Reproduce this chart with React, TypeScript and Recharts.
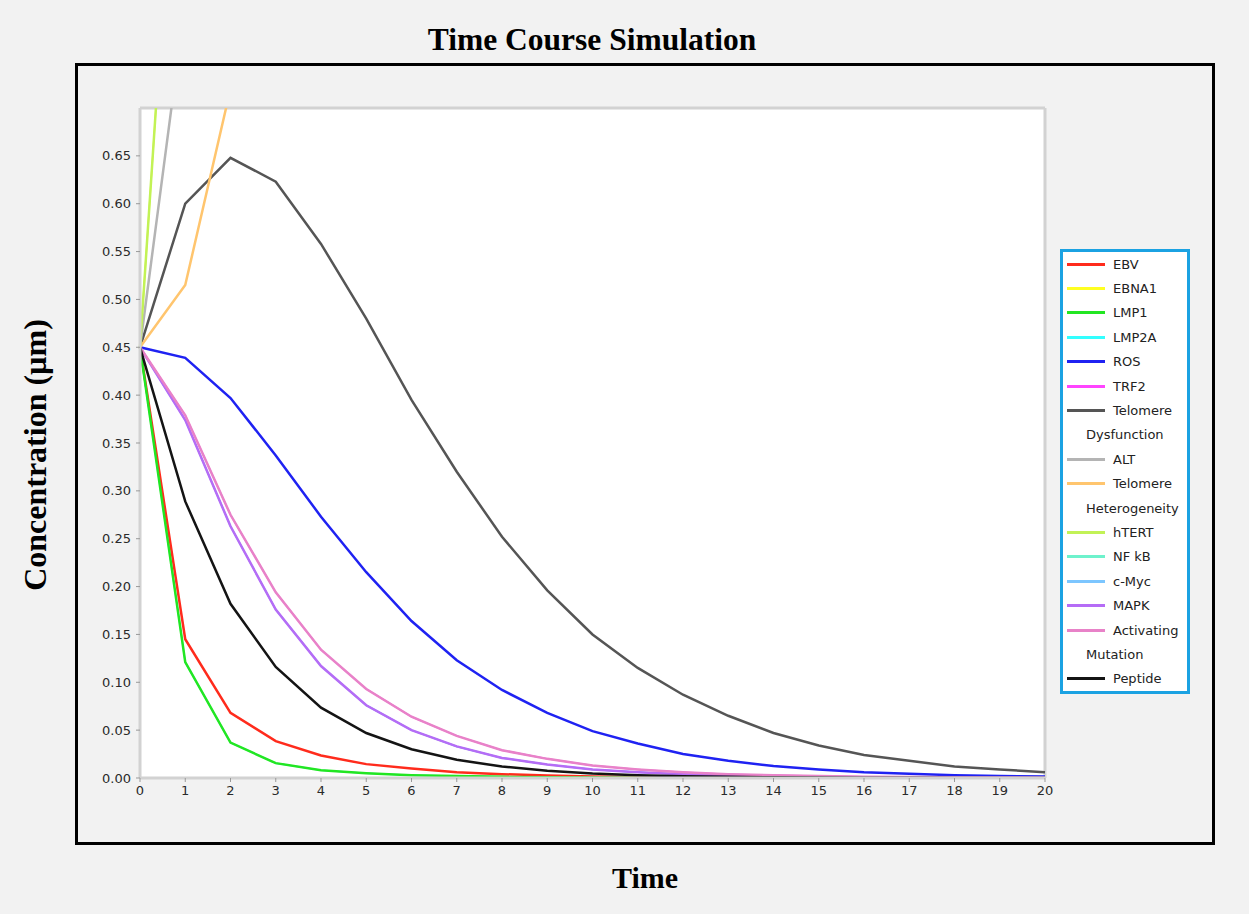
import { CartesianGrid, Line, LineChart, XAxis, YAxis } from "recharts";

// time points (x axis)
const times = [0, 1, 2, 3, 4, 5, 6, 7, 8, 9, 10, 11, 12, 13, 14, 15, 16, 17, 18, 19, 20];
const yTicks = [0, 0.05, 0.1, 0.15, 0.2, 0.25, 0.3, 0.35, 0.4, 0.45, 0.5, 0.55, 0.6, 0.65];

// series values
const ebv = [0.45, 0.145, 0.068, 0.0385, 0.0235, 0.0145, 0.01, 0.006, 0.004, 0.0025, 0.0016, 0.001, 0.0007, 0.0005, 0.0003, 0.0002, 0.00015, 0.0001, 0.0001, 0.0001, 0.0001];
const lmp1 = [0.45, 0.121, 0.037, 0.0155, 0.008, 0.005, 0.003, 0.002, 0.0012, 0.0008, 0.0005, 0.0003, 0.0002, 0.0001, 0.0001, 0.0001, 0, 0, 0, 0, 0];
const ros = [0.45, 0.439, 0.397, 0.337, 0.273, 0.215, 0.164, 0.123, 0.092, 0.068, 0.049, 0.036, 0.025, 0.018, 0.0125, 0.009, 0.006, 0.0045, 0.003, 0.002, 0.0015];
const telDysfunction = [0.45, 0.6, 0.648, 0.623, 0.558, 0.48, 0.395, 0.32, 0.252, 0.196, 0.15, 0.115, 0.087, 0.065, 0.047, 0.034, 0.024, 0.018, 0.012, 0.009, 0.006];
// these three leave the plot at the top; later points are off-scale guesses
const alt = [0.45, 0.81, 1.1, 1.32, 1.48, 1.6, 1.68, 1.74, 1.78, 1.81, 1.83, 1.85, 1.86, 1.87, 1.87, 1.88, 1.88, 1.88, 1.88, 1.88, 1.88];
const telHeterogeneity = [0.45, 0.515, 0.72, 0.9, 1.04, 1.15, 1.23, 1.29, 1.33, 1.36, 1.38, 1.4, 1.41, 1.42, 1.42, 1.43, 1.43, 1.43, 1.43, 1.43, 1.43];
const htert = [0.45, 1.16, 1.62, 1.95, 2.2, 2.38, 2.5, 2.6, 2.67, 2.72, 2.76, 2.79, 2.81, 2.83, 2.84, 2.85, 2.86, 2.86, 2.87, 2.87, 2.87];
const mapk = [0.45, 0.374, 0.263, 0.176, 0.117, 0.076, 0.05, 0.033, 0.021, 0.014, 0.009, 0.006, 0.004, 0.0026, 0.0017, 0.0011, 0.0007, 0.0005, 0.0003, 0.0002, 0.0001];
const activating = [0.45, 0.379, 0.275, 0.194, 0.134, 0.093, 0.064, 0.044, 0.029, 0.02, 0.013, 0.009, 0.006, 0.004, 0.0028, 0.002, 0.0013, 0.001, 0.0007, 0.0005, 0.0003];
const peptide = [0.45, 0.289, 0.182, 0.116, 0.0735, 0.047, 0.03, 0.019, 0.012, 0.0075, 0.0047, 0.003, 0.0019, 0.0012, 0.0008, 0.0005, 0.0003, 0.0002, 0.0001, 0.0001, 0.0001];
// not visible in the reference: they lie under other curves
const ebna1 = htert;
const lmp2a = lmp1;
const trf2 = activating;
const nfkb = mapk;
const cmyc = mapk;

const series = [
  { key: "ebv", name: "EBV", color: "#ff2b1c", values: ebv },
  { key: "ebna1", name: "EBNA1", color: "#ffff22", values: ebna1, hidden: true },
  { key: "lmp1", name: "LMP1", color: "#22e622", values: lmp1 },
  { key: "lmp2a", name: "LMP2A", color: "#33ffff", values: lmp2a, hidden: true },
  { key: "ros", name: "ROS", color: "#1f22f2", values: ros },
  { key: "trf2", name: "TRF2", color: "#ff44ff", values: trf2, hidden: true },
  { key: "teldys", name: "Telomere|Dysfunction", color: "#555555", values: telDysfunction },
  { key: "alt", name: "ALT", color: "#b4b4b4", values: alt },
  { key: "telhet", name: "Telomere|Heterogeneity", color: "#ffc56e", values: telHeterogeneity },
  { key: "htert", name: "hTERT", color: "#c2f256", values: htert },
  { key: "nfkb", name: "NF kB", color: "#6ef2cc", values: nfkb, hidden: true },
  { key: "cmyc", name: "c-Myc", color: "#7cc6ff", values: cmyc, hidden: true },
  { key: "mapk", name: "MAPK", color: "#b56cf6", values: mapk },
  { key: "activating", name: "Activating|Mutation", color: "#e882c8", values: activating },
  { key: "peptide", name: "Peptide", color: "#141414", values: peptide },
];

const data = times.map((t, i) => {
  const row: Record<string, number> = { t };
  series.forEach((s) => (row[s.key] = s.values[i]));
  return row;
});

const tickStyle = { fill: "#2a2a2a", fontSize: 13, fontFamily: "DejaVu Sans" };
const serif = "'Liberation Serif', 'Times New Roman', serif";

function LegendBox() {
  const rows: { text: string; color?: string }[] = [];
  series.forEach((s) => {
    const parts = s.name.split("|");
    rows.push({ text: parts[0], color: s.color });
    if (parts[1]) rows.push({ text: parts[1] });
  });
  return (
    <div
      style={{
        position: "absolute",
        left: 1060,
        top: 249,
        width: 124,
        border: "3px solid #1ba2e2",
        background: "#fff",
        fontFamily: "DejaVu Sans",
        fontSize: 13,
        color: "#222",
      }}
    >
      {rows.map((r, i) => (
        <div key={i} style={{ height: 24.4, display: "flex", alignItems: "center", whiteSpace: "nowrap" }}>
          {r.color ? (
            <>
              <span style={{ display: "inline-block", width: 38, height: 3, marginLeft: 4, background: r.color }} />
              <span style={{ marginLeft: 8 }}>{r.text}</span>
            </>
          ) : (
            <span style={{ marginLeft: 23 }}>{r.text}</span>
          )}
        </div>
      ))}
    </div>
  );
}

export default function App() {
  return (
    <div style={{ position: "absolute", left: 0, top: 0, width: 1249, height: 914, background: "#f2f2f2" }}>
      <div
        style={{
          position: "absolute",
          left: 0,
          width: 1184,
          top: 20,
          textAlign: "center",
          fontFamily: serif,
          fontWeight: "bold",
          fontSize: 31.5,
          lineHeight: "40px",
        }}
      >
        Time Course Simulation
      </div>
      <div
        style={{
          position: "absolute",
          left: 75,
          top: 63,
          width: 1134,
          height: 776,
          border: "3px solid #000",
        }}
      />
      <LineChart
        width={1249}
        height={914}
        data={data}
        margin={{ top: 108, right: 204, bottom: 106, left: 90 }}
        style={{ position: "absolute", left: 0, top: 0 }}
      >
        <CartesianGrid
          fill="#ffffff"
          stroke="#d2d2d2"
          strokeWidth={3}
          horizontalValues={[0.7]}
          verticalValues={[20]}
        />
        <XAxis
          dataKey="t"
          type="number"
          domain={[0, 20]}
          ticks={times}
          interval={0}
          height={30}
          tick={tickStyle}
          tickSize={4}
          tickMargin={4}
          axisLine={{ stroke: "#d2d2d2", strokeWidth: 3 }}
          tickLine={{ stroke: "#999" }}
        />
        <YAxis
          type="number"
          domain={[0, 0.7]}
          allowDataOverflow
          ticks={yTicks}
          interval={0}
          width={50}
          tick={tickStyle}
          tickFormatter={(v: number) => v.toFixed(2)}
          tickSize={4}
          tickMargin={5}
          axisLine={{ stroke: "#d2d2d2", strokeWidth: 3 }}
          tickLine={{ stroke: "#999" }}
        />
        {[...series.filter((s) => s.hidden), ...series.filter((s) => !s.hidden)].map((s) => (
          <Line
            key={s.key}
            dataKey={s.key}
            name={s.name.replace("|", " ")}
            type="linear"
            stroke={s.color}
            strokeWidth={s.hidden ? 1.5 : 2.5}
            dot={false}
            activeDot={false}
            isAnimationActive={false}
          />
        ))}
      </LineChart>
      <LegendBox />
      <div
        style={{
          position: "absolute",
          left: 35,
          top: 455,
          transform: "translate(-50%, -50%) rotate(-90deg)",
          whiteSpace: "nowrap",
          fontFamily: serif,
          fontWeight: "bold",
          fontSize: 32,
        }}
      >
        Concentration (µm)
      </div>
      <div
        style={{
          position: "absolute",
          left: 645,
          top: 878,
          transform: "translate(-50%, -50%)",
          fontFamily: serif,
          fontWeight: "bold",
          fontSize: 30,
        }}
      >
        Time
      </div>
    </div>
  );
}
